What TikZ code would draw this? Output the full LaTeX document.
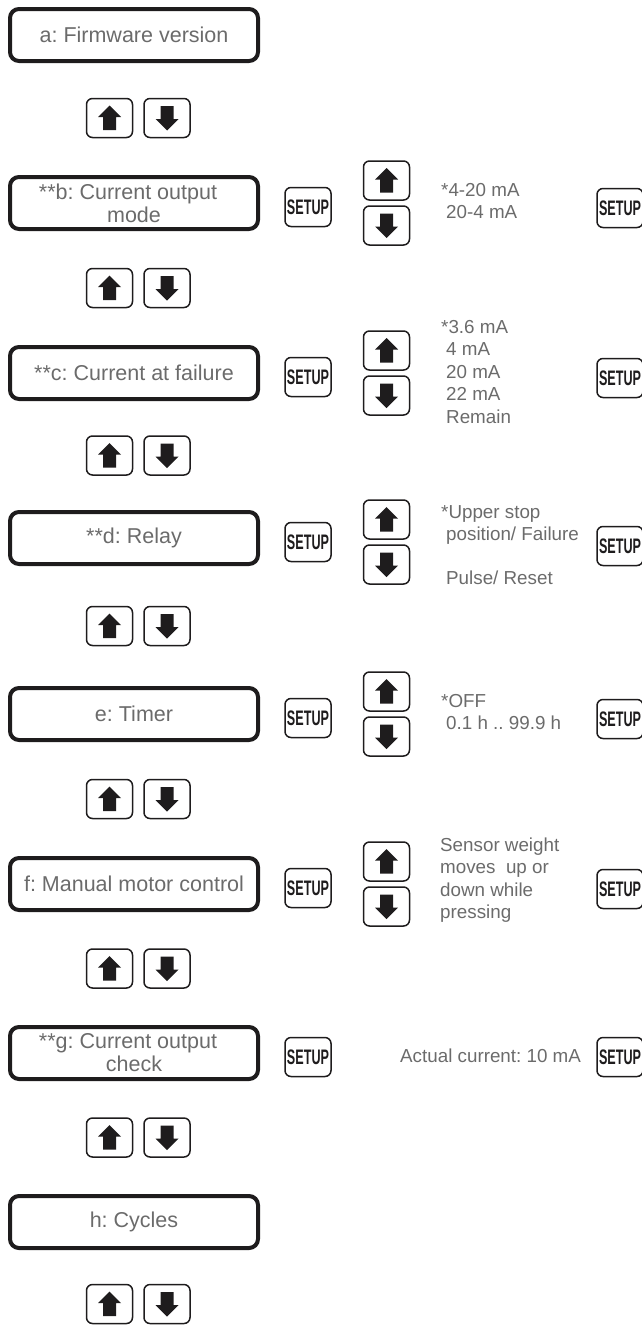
\documentclass[tikz,border=0pt]{standalone}
\usepackage{fontspec}
\usepackage{graphicx}
\setmainfont{Liberation Sans}
\frenchspacing
\definecolor{txtgray}{HTML}{6B6B6B}
\definecolor{ink}{HTML}{1E1C1D}
\newcommand{\setuptxt}{\scalebox{0.6}[1]{\fontsize{21}{21}\selectfont\bfseries SETUP}}
\tikzset{
  disp/.style={draw=ink, line width=4pt, rounded corners=9pt, minimum width=248pt,
     minimum height=52pt, inner sep=0pt, align=center, text=txtgray,
     font=\fontsize{21.5}{23}\selectfont},
  btn/.style={draw=ink, line width=1.5pt, rounded corners=6pt, minimum width=46pt,
     minimum height=39pt, inner sep=0pt},
  setupbtn/.style={btn, text=ink},
  rtxt/.style={anchor=west, align=left, inner sep=0pt, text=txtgray,
     font=\fontsize{18.8}{22.5}\selectfont},
  uarr/.pic={\fill[ink] (0,-12.5) -- (11.5,-1) -- (6.5,-1) -- (6.5,12) -- (-6.5,12) -- (-6.5,-1) -- (-11.5,-1) -- cycle;},
  darr/.pic={\fill[ink] (0,12.5) -- (11.5,1) -- (6.5,1) -- (6.5,-12) -- (-6.5,-12) -- (-6.5,1) -- (-11.5,1) -- cycle;}
}
\begin{document}
\begin{tikzpicture}[x=1pt,y=-1pt]
\useasboundingbox (0,0) rectangle (642,1325);
% left column display boxes
\node[disp] (a) at (134,35) {a: Firmware version};
\node[disp] (b) at (134,203) {**b: Current output\hspace*{12pt}\\mode};
\node[disp] (c) at (134,373) {**c: Current at failure};
\node[disp] (d) at (134,538) {**d: Relay};
\node[disp] (e) at (134,714) {e: Timer};
\node[disp] (f) at (134,884) {f: Manual motor control};
\node[disp] (g) at (134,1053) {**g: Current output\hspace*{12pt}\\check};
\node[disp] (h) at (134,1222) {h: Cycles};
% horizontal up/down pairs
\foreach \n/\y in {1/118,2/288,3/455.5,4/626,5/799,6/968.5,7/1137.5,8/1304}{
  \node[btn] (hu\n) at (109.5,\y) {};
  \pic at (hu\n.center) {uarr};
  \node[btn] (hd\n) at (167,\y) {};
  \pic at (hd\n.center) {darr};
}
% middle and right SETUP buttons
\foreach \n/\y/\r in {b/203/5,c/373/5,d/538/8,e/714/5,f/884/5,g/1053/4}{
  \node[setupbtn] (ms\n) at (308,\y+4) {\setuptxt};
  \node[setupbtn] (rs\n) at (620,\y+\r) {\setuptxt};
}
% vertical up/down pairs on the right
\foreach \n/\y in {b/203,c/373,d/542,e/714,f/884}{
  \node[btn] (vu\n) at (386.5,\y-22.5) {};
  \pic at (vu\n.center) {uarr};
  \node[btn] (vd\n) at (386.5,\y+22.5) {};
  \pic at (vd\n.center) {darr};
}
% option texts
\node[rtxt] (tb) at (441,201) {*4-20 mA\\\hspace*{5pt}20-4 mA};
\node[rtxt] (tc) at (441,372) {*3.6 mA\\\hspace*{5pt}4 mA\\\hspace*{5pt}20 mA\\\hspace*{5pt}22 mA\\\hspace*{5pt}Remain};
\node[rtxt] (td) at (441,545) {*Upper stop\\\hspace*{5pt}position/ Failure\\[21pt]\hspace*{5pt}Pulse/ Reset};
\node[rtxt] (te) at (441,712) {*OFF\\\hspace*{5pt}0.1 h .. 99.9 h};
\node[rtxt] (tf) at (440,880) {Sensor weight\\moves\ \ up or\\down while\\pressing};
\node[rtxt] (tg) at (400,1056) {Actual current: 10 mA};
\end{tikzpicture}
\end{document}
